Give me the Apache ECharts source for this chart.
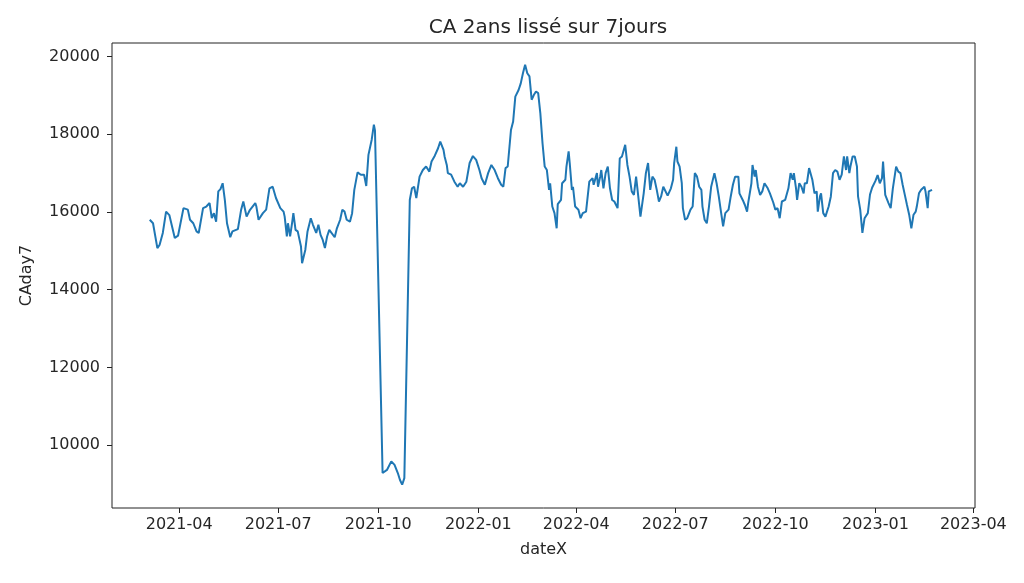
<!DOCTYPE html>
<html><head><meta charset="utf-8">
<script src="https://cdn.jsdelivr.net/npm/echarts@6/dist/echarts.min.js"></script>
<style>html,body{margin:0;padding:0;background:#fff}#c{width:1024px;height:583px}</style>
</head><body><div id="c"></div>
<script>
const chartTitle = 'CA 2ans lissé sur 7jours';
const xAxisName = 'dateX';
const yAxisName = 'CAday7';
const startDate = '2021-03-05';
// days since startDate
const dayIndex = [0,3,7,9,12,15,18,23,26,31,35,37,40,43,45,49,52,55,57,59,61,63,65,67,69,71,74,76,81,84,86,89,92,97,98,100,104,107,110,113,116,120,123,124,126,127,129,131,132,134,136,139,140,143,145,148,150,153,155,157,159,161,163,165,170,172,175,177,179,181,184,186,188,191,194,197,199,201,204,206,207,214,218,222,225,228,230,232,234,239,241,243,245,248,251,254,257,259,262,265,267,270,271,273,274,277,280,283,285,288,291,294,297,300,303,305,308,311,314,317,320,323,325,327,329,332,334,336,339,341,343,345,347,349,351,353,355,357,359,361,363,365,367,368,370,372,374,375,378,379,382,383,385,386,388,389,391,394,396,398,401,404,407,408,411,412,414,415,417,419,421,423,425,427,430,432,434,437,439,441,443,445,447,449,451,454,456,458,460,462,464,466,468,470,472,476,479,481,482,484,485,487,489,490,492,494,497,499,501,503,505,507,508,510,512,514,516,519,521,523,525,527,529,532,534,536,538,541,542,545,547,549,550,553,554,556,557,559,561,563,565,568,570,573,575,577,579,581,584,587,589,591,592,594,595,597,599,601,602,604,606,607,609,611,613,614,616,617,619,621,624,626,628,630,632,634,636,638,640,641,643,644,646,648,650,651,653,655,657,660,662,664,667,669,671,673,674,676,677,679,681,683,686,688,690,692,694,696,698,700,702,704,705,707,709,712,713,715,716,719];
const caDay7 = [15800,15710,15070,15150,15460,16010,15920,15330,15390,16100,16060,15800,15710,15500,15460,16100,16140,16230,15840,15970,15750,16530,16590,16740,16310,15710,15350,15500,15560,16060,16270,15880,16050,16230,16140,15800,15970,16060,16610,16650,16360,16100,16010,15880,15370,15710,15370,15750,15970,15540,15500,15110,14680,15030,15500,15840,15670,15460,15670,15410,15280,15070,15370,15540,15350,15580,15800,16060,16010,15800,15750,15970,16570,17020,16960,16960,16670,17470,17860,18250,18100,9280,9360,9580,9490,9280,9100,8980,9150,16310,16610,16650,16360,16910,17080,17170,17040,17300,17450,17640,17810,17600,17430,17210,17000,16960,16780,16650,16740,16650,16780,17260,17440,17340,17080,16870,16700,17000,17210,17080,16870,16700,16650,17130,17170,18110,18330,18970,19140,19310,19570,19790,19570,19490,18890,19010,19100,19060,18540,17770,17170,17080,16570,16740,16140,15970,15580,16200,16310,16740,16830,17170,17560,17260,16570,16650,16140,16060,15840,15970,16010,16780,16870,16700,17000,16650,16910,17080,16610,17000,17170,16610,16310,16270,16100,17380,17430,17730,17210,16910,16530,16440,16910,16400,15880,16480,17000,17260,16570,16910,16830,16570,16270,16400,16650,16420,16610,16830,17260,17680,17300,17170,16740,16100,15800,15840,16060,16140,17000,16910,16650,16570,16140,15800,15710,16140,16650,17000,16740,16400,16010,15630,15970,16060,16400,16700,16910,16910,16480,16310,16180,16010,16230,16740,17210,16910,17080,16650,16440,16530,16740,16610,16480,16250,16060,16100,15840,16270,16310,16610,17000,16830,17000,16610,16310,16740,16650,16480,16740,16740,17130,17170,16830,16480,16530,16010,16400,16480,15970,15880,16140,16400,17000,17080,17040,16830,16960,17430,17080,17430,17000,17170,17430,17430,17170,16400,16060,15460,15840,15970,16450,16630,16800,16950,16740,16870,17300,16440,16480,16230,16100,16610,17170,17040,17000,16700,16440,16180,15930,15580,15930,16010,16140,16480,16570,16650,16530,16100,16530,16570];
const xTickLabels = ['2021-04','2021-07','2021-10','2022-01','2022-04','2022-07','2022-10','2023-01','2023-04'];
const yTickValues = [10000,12000,14000,16000,18000,20000];
const yRange = [8380, 20350];
const xRangeDays = [-34.7, 758.5]; // axis limits, in days since startDate

const DAY = 86400000;
const t0 = Date.parse(startDate + 'T00:00:00Z');
const seriesData = dayIndex.map((d, i) => [t0 + d * DAY, caDay7[i]]);
const xTickValues = xTickLabels.map(s => Date.parse(s + '-01T00:00:00Z'));

const FONT = 'DejaVu Sans';
const TXT = '#262626';
const chart = echarts.init(document.getElementById('c'), null, {renderer: 'canvas'});
chart.setOption({
  animation: false,
  backgroundColor: '#fff',
  title: {
    text: chartTitle, left: 543, top: 13, textAlign: 'center',
    textStyle: {fontFamily: FONT, fontSize: 20, fontWeight: 'normal', color: TXT}
  },
  grid: {left: 112, right: 49, top: 43, bottom: 75, show: true, borderColor: '#222', borderWidth: 1, backgroundColor: 'transparent', containLabel: false, outerBoundsMode: 'none'},
  xAxis: {
    type: 'value', min: t0 + xRangeDays[0] * DAY, max: t0 + xRangeDays[1] * DAY, scale: true,
    name: xAxisName, nameLocation: 'middle', nameGap: 34,
    nameTextStyle: {fontFamily: FONT, fontSize: 16, color: TXT},
    axisLine: {show: false},
    splitLine: {show: false},
    axisTick: {show: true, length: 5, lineStyle: {color: '#222'}, customValues: xTickValues},
    axisLabel: {
      fontFamily: FONT, fontSize: 16, color: TXT, margin: 9, customValues: xTickValues,
      showMinLabel: true, showMaxLabel: true, hideOverlap: false,
      formatter: v => { const i = xTickValues.indexOf(v); return i >= 0 ? xTickLabels[i] : ''; }
    }
  },
  yAxis: {
    type: 'value', min: yRange[0], max: yRange[1],
    name: yAxisName, nameLocation: 'middle', nameGap: 77,
    nameTextStyle: {fontFamily: FONT, fontSize: 16, color: TXT},
    axisLine: {show: false},
    splitLine: {show: false},
    axisTick: {show: true, length: 5, lineStyle: {color: '#222'}, customValues: yTickValues},
    axisLabel: {fontFamily: FONT, fontSize: 16, color: TXT, margin: 12, customValues: yTickValues,
      formatter: v => String(v)}
  },
  series: [{
    type: 'line', data: seriesData, showSymbol: false, symbol: 'none',
    lineStyle: {color: '#1f77b4', width: 2}, itemStyle: {color: '#1f77b4'}
  }]
});
</script></body></html>
